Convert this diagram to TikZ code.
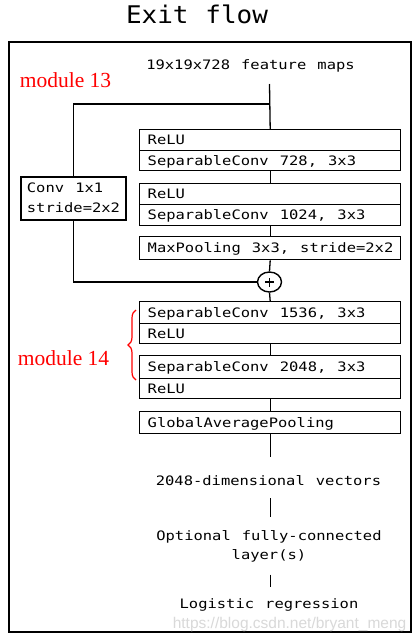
\documentclass[tikz,border=0pt]{standalone}
\usepackage{fontspec}
\usetikzlibrary{shapes.geometric,decorations.pathreplacing}
\newfontfamily\monof[FakeStretch=1.19,WordSpace={1.19,0,0}]{DejaVu Sans Mono}
\newfontfamily\titlef[FakeStretch=1.07,WordSpace={1.07,0,0}]{DejaVu Sans Mono}
\newfontfamily\redf{Liberation Serif}
\newfontfamily\wmf{Liberation Sans}
\newcommand\boxtxt{\monof\fontsize{13}{16}\selectfont}
\newcommand\rowtext[1]{\makebox[245pt][l]{#1}}
\begin{document}
\begin{tikzpicture}[x=1pt,y=-1pt,line width=1.4pt,
  row/.style={draw, anchor=north west, minimum width=261pt,
    inner xsep=8pt, inner ysep=0pt, text height=9.5pt, text depth=0pt,
    font=\boxtxt},
  lbl/.style={inner sep=0pt, font=\boxtxt},
  redlbl/.style={anchor=base, inner sep=0pt, text=red, font=\redf\fontsize{21.5}{21.5}\selectfont},
  conn/.style={line width=1.3pt}]
\path[use as bounding box, fill=white] (0,0) rectangle (416,643);
% title and frame
\node[anchor=base, inner sep=0pt, font=\titlef\fontsize{24.3}{24.3}\selectfont] (title) at (197,23) {Exit flow};
\node[draw, line width=1.5pt, anchor=north west, minimum width=402pt, minimum height=590pt, inner sep=0pt] (frame) at (8,41) {};
% input text
\node[lbl, anchor=base] (fm) at (250.5,69) {19x19x728 feature maps};
\coordinate (ftop) at (269.5,84);
\coordinate (split) at (269.5,104);
% module 13
\node[row, minimum height=21pt] (r1a) at (139,129) {\rowtext{ReLU}};
\node[row, minimum height=20pt] (r1b) at (139,150) {\rowtext{SeparableConv 728, 3x3}};
\node[row, minimum height=21pt] (r2a) at (139,183) {\rowtext{ReLU}};
\node[row, minimum height=21pt] (r2b) at (139,204) {\rowtext{SeparableConv 1024, 3x3}};
\node[row, minimum height=23pt] (mp) at (139,236) {\rowtext{MaxPooling 3x3, stride=2x2}};
\node[draw, minimum width=105pt, minimum height=43pt, inner xsep=5.5pt, inner ysep=0pt,
  font=\monof\fontsize{13}{19.5}\selectfont] (conv) at (73.5,198.5)
  {\begin{tabular}{@{}l@{}}Conv 1x1\\[1pt]stride=2x2\end{tabular}};
\node[draw, ellipse, minimum width=24pt, minimum height=20pt, inner sep=0pt] (plus) at (269.5,282) {};
\draw[line width=1.2pt] ([xshift=-4.5pt]plus.center) -- ([xshift=4.5pt]plus.center);
\draw[line width=1.2pt] ([yshift=-4.5pt]plus.center) -- ([yshift=4.5pt]plus.center);
% module 14
\node[row, minimum height=22pt] (r3a) at (139,301) {\rowtext{SeparableConv 1536, 3x3}};
\node[row, minimum height=20pt] (r3b) at (139,323) {\rowtext{ReLU}};
\node[row, minimum height=23pt] (r4a) at (139,355) {\rowtext{SeparableConv 2048, 3x3}};
\node[row, minimum height=20pt] (r4b) at (139,378) {\rowtext{ReLU}};
\node[row, minimum height=22pt] (gap) at (139,411) {\rowtext{GlobalAveragePooling}};
% outputs
\node[lbl, anchor=base] (vec) at (268.5,485) {2048-dimensional vectors};
\node[lbl, anchor=north, align=center, font=\monof\fontsize{13}{18.5}\selectfont] (opt) at (269,530) {Optional fully-connected\\layer(s)};
\node[lbl, anchor=base] (log) at (269,608) {Logistic regression};
% labels
\node[redlbl] (m13) at (65.5,87) {module 13};
\node[redlbl] (m14) at (63.5,365) {module 14};
\draw[red, line width=1.2pt, decorate, decoration={brace, amplitude=8pt}]
  ([xshift=-3pt]r4a.south west |- 0,380) -- ([xshift=-3pt]r3a.north west |- 0,310);
% connectors
\draw[conn] (ftop) -- (r1a.north);
\draw[conn] (split) -| (conv.north);
\draw[conn] (conv.south) |- (plus.west);
\draw[conn] (r1b.south) -- (r2a.north);
\draw[conn] (r2b.south) -- (mp.north);
\draw[conn] (mp.south) -- (plus.north);
\draw[conn] (plus.south) -- (r3a.north);
\draw[conn] (r3b.south) -- (r4a.north);
\draw[conn] (r4b.south) -- (gap.north);
\draw[conn] (gap.south) -- ([yshift=28pt]vec.base -| gap.south);
\draw[conn] ([yshift=-13pt]vec.base -| gap.south) -- ([yshift=13pt]opt.north -| gap.south);
\draw[conn] ([yshift=-12pt]opt.south -| gap.south) -- ([yshift=21pt]log.base -| gap.south);
% watermark
\node[anchor=base east, inner sep=0pt, text=black!15, font=\wmf\fontsize{15.5}{15.5}\selectfont] (wm) at (407,628) {https://blog.csdn.net/bryant\_meng};
\end{tikzpicture}
\end{document}
